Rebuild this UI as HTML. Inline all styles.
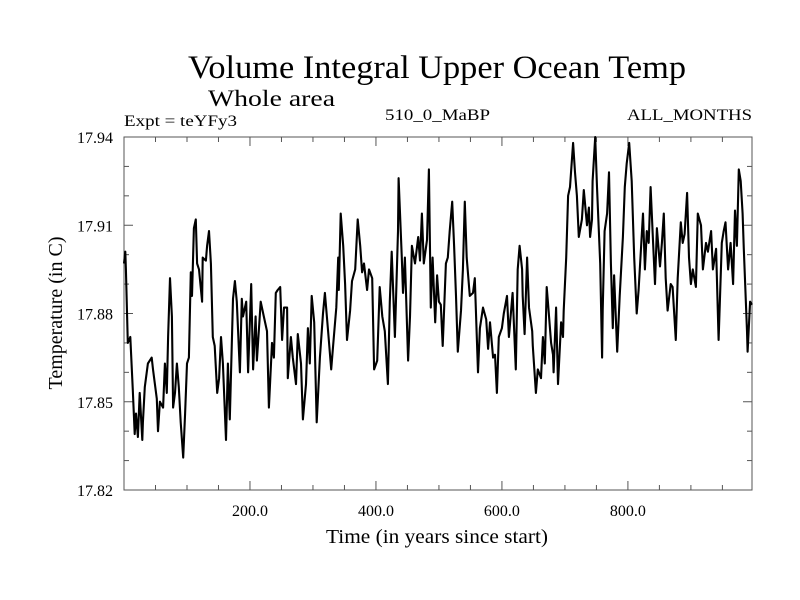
<!DOCTYPE html>
<html><head><meta charset="utf-8"><style>
body{margin:0;background:#fff}
svg{display:block}
text{font-family:"Liberation Serif",serif;fill:#000}
</style></head><body>
<svg id="chart" width="800" height="600">
<text x="188" y="78" font-size="33" textLength="498" lengthAdjust="spacingAndGlyphs">Volume Integral Upper Ocean Temp</text>
<text x="208" y="106" font-size="23" textLength="127" lengthAdjust="spacingAndGlyphs">Whole area</text>
<text x="124" y="126" font-size="16" textLength="113" lengthAdjust="spacingAndGlyphs">Expt = teYFy3</text>
<text x="385" y="120" font-size="16" textLength="105" lengthAdjust="spacingAndGlyphs">510_0_MaBP</text>
<text x="627" y="120" font-size="16" textLength="125" lengthAdjust="spacingAndGlyphs">ALL_MONTHS</text>
<text x="326" y="543" font-size="20" textLength="222" lengthAdjust="spacingAndGlyphs">Time (in years since start)</text>
<text transform="translate(62,313) rotate(-90)" font-size="20" text-anchor="middle">Temperature (in C)</text>
<rect x="124" y="137" width="628" height="353" fill="none" stroke="#555" stroke-width="1"/>
<g id="ticks"></g>
<path id="series" fill="none" stroke="#000" stroke-width="2.1" stroke-linejoin="round"/>
</svg>
<script>
const years=[0,2,3,6,10,14,17,19,22,25,29,30,33,38,44,46,52,54,57,62,65,68,70,73,76,78,81,84,87,90,94,97,100,103,106,108,111,114,116,119,124,125,130,132,135,138,141,144,148,151,154,157,162,165,168,173,176,179,184,187,189,194,197,202,205,209,211,214,217,222,227,230,235,238,241,244,248,251,254,259,260,265,268,273,276,281,284,289,292,295,298,302,306,311,316,319,324,329,332,337,340,341,344,348,351,354,359,362,367,371,375,378,381,386,389,394,397,402,406,410,414,419,422,425,430,435,436,441,443,446,451,454,457,462,467,470,473,476,481,484,487,490,494,497,500,503,506,511,514,517,521,524,527,530,535,538,541,544,549,554,557,562,565,570,575,578,581,586,589,592,595,600,603,608,611,617,622,625,628,632,633,636,640,643,648,649,654,657,662,665,668,671,673,678,681,682,686,689,694,697,698,702,705,708,713,716,719,722,727,730,735,738,740,743,744,748,751,756,759,760,763,767,770,773,776,778,781,783,787,792,795,798,802,806,810,814,817,824,827,830,833,836,840,843,846,851,854,857,860,863,868,871,876,879,884,887,890,894,897,900,903,908,911,916,919,924,927,932,935,940,944,949,952,955,959,963,967,970,973,976,979,982,984,989,990,994,997];
const temps=[17.897,17.901,17.895,17.870,17.872,17.854,17.839,17.846,17.838,17.853,17.837,17.843,17.855,17.863,17.865,17.861,17.851,17.840,17.850,17.848,17.863,17.853,17.872,17.892,17.879,17.848,17.853,17.863,17.855,17.843,17.831,17.846,17.863,17.865,17.894,17.886,17.909,17.912,17.897,17.895,17.884,17.899,17.898,17.903,17.908,17.897,17.872,17.869,17.853,17.858,17.872,17.863,17.837,17.863,17.844,17.885,17.891,17.884,17.860,17.885,17.879,17.884,17.860,17.890,17.861,17.879,17.864,17.874,17.884,17.879,17.874,17.848,17.870,17.865,17.887,17.888,17.889,17.871,17.882,17.882,17.858,17.872,17.865,17.856,17.873,17.863,17.844,17.856,17.875,17.863,17.886,17.877,17.843,17.865,17.880,17.887,17.874,17.861,17.869,17.882,17.899,17.888,17.914,17.903,17.890,17.871,17.881,17.891,17.895,17.912,17.903,17.894,17.897,17.888,17.895,17.892,17.861,17.864,17.889,17.879,17.874,17.856,17.884,17.901,17.872,17.908,17.926,17.899,17.887,17.899,17.864,17.879,17.903,17.897,17.906,17.898,17.914,17.897,17.905,17.929,17.882,17.899,17.877,17.893,17.884,17.883,17.869,17.897,17.899,17.908,17.918,17.903,17.886,17.867,17.881,17.895,17.918,17.899,17.886,17.887,17.892,17.860,17.875,17.882,17.878,17.868,17.877,17.865,17.866,17.853,17.872,17.875,17.880,17.886,17.872,17.887,17.861,17.895,17.903,17.895,17.886,17.873,17.899,17.882,17.874,17.869,17.853,17.861,17.858,17.872,17.863,17.889,17.884,17.870,17.866,17.860,17.882,17.856,17.877,17.872,17.881,17.899,17.920,17.923,17.938,17.928,17.920,17.906,17.912,17.922,17.910,17.916,17.906,17.912,17.925,17.940,17.923,17.897,17.865,17.881,17.908,17.914,17.928,17.897,17.875,17.893,17.878,17.867,17.886,17.906,17.923,17.931,17.938,17.925,17.899,17.880,17.888,17.914,17.895,17.908,17.904,17.923,17.904,17.890,17.909,17.896,17.904,17.914,17.892,17.881,17.890,17.889,17.871,17.892,17.911,17.904,17.907,17.921,17.899,17.890,17.895,17.889,17.914,17.910,17.895,17.904,17.901,17.908,17.895,17.902,17.871,17.904,17.908,17.911,17.895,17.904,17.890,17.915,17.903,17.929,17.925,17.914,17.902,17.874,17.867,17.884,17.883];
const yTickLabels=["17.82","17.85","17.88","17.91","17.94"];
const xTickLabels=["200.0","400.0","600.0","800.0"];
const X0=124,X1=752,Y0=490,Y1=137;
const xMin=0,xMax=997,yMin=17.82,yMax=17.94;
function xs(v){return X0+(v-xMin)/(xMax-xMin)*(X1-X0);}
function ys(v){return Y0-(v-yMin)/(yMax-yMin)*(Y0-Y1);}
const svg=document.getElementById('chart');
const NS='http://www.w3.org/2000/svg';
let d='';
for(let i=0;i<years.length;i++){d+=(i?'L':'M')+xs(years[i]).toFixed(1)+' '+ys(temps[i]).toFixed(1);}
document.getElementById('series').setAttribute('d',d);
const g=document.getElementById('ticks');
function line(x1,y1,x2,y2,name){const l=document.createElementNS(NS,'line');
l.setAttribute('x1',x1);l.setAttribute('y1',y1);l.setAttribute('x2',x2);l.setAttribute('y2',y2);
l.setAttribute('stroke','#555');l.setAttribute('stroke-width','1');


g.appendChild(l);}
function label(x,y,t,anchor,name){const e=document.createElementNS(NS,'text');
e.setAttribute('x',x);e.setAttribute('y',y);e.setAttribute('font-size','16');e.setAttribute('text-anchor',anchor);e.textContent=t;


svg.appendChild(e);}
for(let k=0;k<=12;k++){const v=yMin+k*0.01,y=ys(v),L=(k%3===0)?9:5;
line(X0,y,X0+L,y,'y-tick');line(X1,y,X1-L,y,'y-tick-right');}
yTickLabels.forEach(t=>label(113,ys(parseFloat(t))+6,t,'end','y-tick-label'));
for(let v=50;v<xMax;v+=50){const x=xs(v),L=(v%200===0)?9:5;
line(x,Y0,x,Y0-L,'x-tick');line(x,Y1,x,Y1+L,'x-tick-top');}
xTickLabels.forEach(t=>label(xs(parseFloat(t)),516,t,'middle','x-tick-label'));
</script>
</body></html>
